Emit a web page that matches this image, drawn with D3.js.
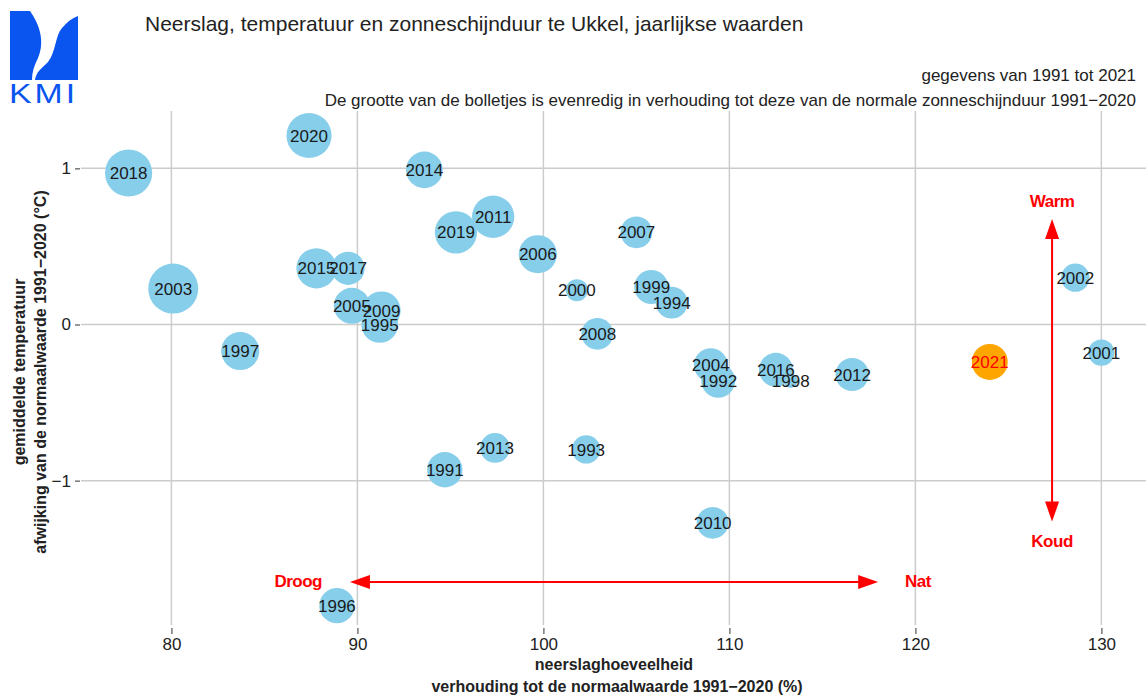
<!DOCTYPE html>
<html>
<head>
<meta charset="utf-8">
<title>Neerslag, temperatuur en zonneschijnduur te Ukkel</title>
<style>
body { margin: 0; background: #fff; }
svg { display: block; font-family: "Liberation Sans", Arial, sans-serif; }
.grid line { stroke: #cccccc; stroke-width: 1.5; }
.axis text { font-size: 17px; fill: #222; }
.axis line { stroke: #777; stroke-width: 1.5; }
.jaar { font-size: 17px; fill: #1a1a1a; text-anchor: middle; }
.richting { font-size: 17px; font-weight: bold; fill: #ff0000; letter-spacing: -0.5px; }
</style>
</head>
<body>
<svg width="1146" height="697"></svg>
<script src="https://cdn.jsdelivr.net/npm/d3@7"></script>
<script>
var jaren = [2018, 2020, 2003, 1997, 2015, 2017, 2005, 2009, 1995, 2014, 2019, 2011, 2006, 2000, 2007,
             1999, 1994, 2008, 2004, 1992, 2016, 1998, 2012, 2002, 2001, 2013, 1993, 1991, 2010, 1996, 2021];
// neerslag, % van normaal 1991-2020
var neerslag = [77.7, 87.4, 80.1, 83.7, 87.8, 89.5, 89.7, 91.3, 91.2, 93.6, 95.3, 97.3, 99.7, 101.8, 105.0,
                105.8, 106.9, 102.9, 109.0, 109.4, 112.5, 113.3, 116.6, 128.6, 130.0, 97.4, 102.3, 94.7, 109.1, 88.9, 124.0];
// temperatuur, afwijking t.o.v. normaal (°C)
var temperatuur = [0.97, 1.21, 0.23, -0.17, 0.36, 0.36, 0.12, 0.09, 0.00, 0.99, 0.59, 0.69, 0.45, 0.22, 0.59,
                   0.24, 0.14, -0.06, -0.26, -0.36, -0.29, -0.36, -0.32, 0.30, -0.18, -0.79, -0.80, -0.93, -1.27, -1.80, -0.24];
// zonneschijnduur, % van normaal (bepaalt de grootte van het bolletje)
var zon = [126, 123, 130, 113, 116, 106, 110, 113, 111, 111, 119, 119, 113, 90, 104,
           107, 104, 104, 107, 107, 107, 79, 106, 99, 96, 101, 99, 109, 104, 109, 110];

var xTicks = [80, 90, 100, 110, 120, 130];
var yTicks = [-1, 0, 1];
var titel = "Neerslag, temperatuur en zonneschijnduur te Ukkel, jaarlijkse waarden";
var sub1 = "gegevens van 1991 tot 2021";
var sub2 = "De grootte van de bolletjes is evenredig in verhouding tot deze van de normale zonneschijnduur 1991\u22122020";

var svg = d3.select("svg");
var pLeft = 81, pRight = 1146, pTop = 111, pBottom = 625;

var x = d3.scaleLinear().domain([75.14, 132.4]).range([pLeft, pRight]);
var y = d3.scaleLinear().domain([-1.924, 1.367]).range([pBottom, pTop]);
var r = d3.scaleLinear().domain([90, 130]).range([11, 25]);

// logo KMI
var logo = svg.append("g").attr("fill", "#0a55f0");
logo.append("path").attr("d", "M10,11 L30,11 C40,25 45,42 38,58 C34,66 32,72 32,80 L10,80 Z");
logo.append("path").attr("d", "M78,16 L78,80 L35,80 C36,72 42,68 48,62 C56,52 55,36 62,28 C67,22 72,18 78,16 Z");
logo.append("text").attr("transform", "translate(9,103) scale(1.25,1)").attr("font-size", 27)
    .attr("letter-spacing", 2.5).text("KMI");

// titels
svg.append("text").attr("x", 145).attr("y", 31).attr("font-size", 21).attr("fill", "#222").text(titel);
svg.append("text").attr("x", 1136).attr("y", 81).attr("font-size", 17).attr("fill", "#222")
    .attr("text-anchor", "end").text(sub1);
svg.append("text").attr("x", 1136).attr("y", 106).attr("font-size", 17).attr("fill", "#222")
    .attr("text-anchor", "end").text(sub2);

// rasterlijnen
var grid = svg.append("g").attr("class", "grid");
grid.selectAll(".v").data(xTicks).enter().append("line")
    .attr("x1", d => x(d)).attr("x2", d => x(d)).attr("y1", pTop).attr("y2", pBottom);
grid.selectAll(".h").data(yTicks).enter().append("line")
    .attr("x1", pLeft).attr("x2", pRight).attr("y1", d => y(d)).attr("y2", d => y(d));

// assen
svg.append("g").attr("class", "axis").attr("transform", "translate(0,628)")
    .call(d3.axisBottom(x).tickValues(xTicks).tickSize(6).tickPadding(4))
    .call(g => g.select(".domain").remove())
    .selectAll("text").attr("font-size", 17).attr("font-family", null);
svg.append("g").attr("class", "axis").attr("transform", "translate(80,0)")
    .call(d3.axisLeft(y).tickValues(yTicks).tickFormat(d3.format("d")).tickSize(5).tickPadding(4))
    .call(g => g.select(".domain").remove())
    .selectAll("text").attr("font-size", 17).attr("font-family", null);

// astitels
svg.append("text").attr("x", 614).attr("y", 670).attr("text-anchor", "middle")
    .attr("font-size", 16).attr("font-weight", "bold").attr("fill", "#222").text("neerslaghoeveelheid");
svg.append("text").attr("x", 617).attr("y", 692).attr("text-anchor", "middle")
    .attr("font-size", 16).attr("font-weight", "bold").attr("fill", "#222")
    .text("verhouding tot de normaalwaarde 1991\u22122020 (%)");
var yt = svg.append("g").attr("transform", "translate(0,372) rotate(-90)");
yt.append("text").attr("x", 0).attr("y", 25).attr("text-anchor", "middle")
    .attr("font-size", 16).attr("font-weight", "bold").attr("fill", "#222").text("gemiddelde temperatuur");
yt.append("text").attr("x", 0).attr("y", 46).attr("text-anchor", "middle")
    .attr("font-size", 16).attr("font-weight", "bold").attr("fill", "#222")
    .text("afwijking van de normaalwaarde 1991\u22122020 (\u00b0C)");

// bolletjes
var data = jaren.map((j, i) => ({jaar: j, n: neerslag[i], t: temperatuur[i], z: zon[i]}));
svg.append("g").selectAll("circle").data(data).enter().append("circle")
    .attr("cx", d => x(d.n)).attr("cy", d => y(d.t)).attr("r", d => r(d.z))
    .attr("fill", d => d.jaar === 2021 ? "#ffa500" : "#87ceeb");
svg.append("g").selectAll("text").data(data).enter().append("text")
    .attr("class", "jaar")
    .attr("x", d => x(d.n)).attr("y", d => y(d.t)).attr("dy", "0.36em")
    .style("fill", d => d.jaar === 2021 ? "#ff0000" : null)
    .text(d => d.jaar);

// pijlen droog/nat en warm/koud
var pijlX = [89.6, 118.0], pijlXy = -1.648;
var pijlY = [0.675, -1.262], pijlYx = 127.35;
var rood = "#ff0000";
function kop(tx, ty, dx, dy) { // driehoek met punt op (tx,ty), richting (dx,dy)
  var L = 20, W = 7, bx = tx - dx * L, by = ty - dy * L;
  return "M" + tx + "," + ty + "L" + (bx - dy * W) + "," + (by + dx * W) + "L" + (bx + dy * W) + "," + (by - dx * W) + "Z";
}
var ay = y(pijlXy);
svg.append("line").attr("x1", x(pijlX[0]) + 10).attr("x2", x(pijlX[1]) - 10).attr("y1", ay).attr("y2", ay)
    .attr("stroke", rood).attr("stroke-width", 2);
svg.append("path").attr("d", kop(x(pijlX[0]), ay, -1, 0)).attr("fill", rood);
svg.append("path").attr("d", kop(x(pijlX[1]), ay, 1, 0)).attr("fill", rood);
var ax = x(pijlYx);
svg.append("line").attr("x1", ax).attr("x2", ax).attr("y1", y(pijlY[0]) + 10).attr("y2", y(pijlY[1]) - 10)
    .attr("stroke", rood).attr("stroke-width", 2);
svg.append("path").attr("d", kop(ax, y(pijlY[0]), 0, -1)).attr("fill", rood);
svg.append("path").attr("d", kop(ax, y(pijlY[1]), 0, 1)).attr("fill", rood);

svg.append("text").attr("class", "richting").attr("x", 322).attr("y", ay + 5).attr("text-anchor", "end").text("Droog");
svg.append("text").attr("class", "richting").attr("x", 905).attr("y", ay + 5).text("Nat");
svg.append("text").attr("class", "richting").attr("x", ax).attr("y", 207).attr("text-anchor", "middle").text("Warm");
svg.append("text").attr("class", "richting").attr("x", ax).attr("y", 547).attr("text-anchor", "middle").text("Koud");
</script>
</body>
</html>
